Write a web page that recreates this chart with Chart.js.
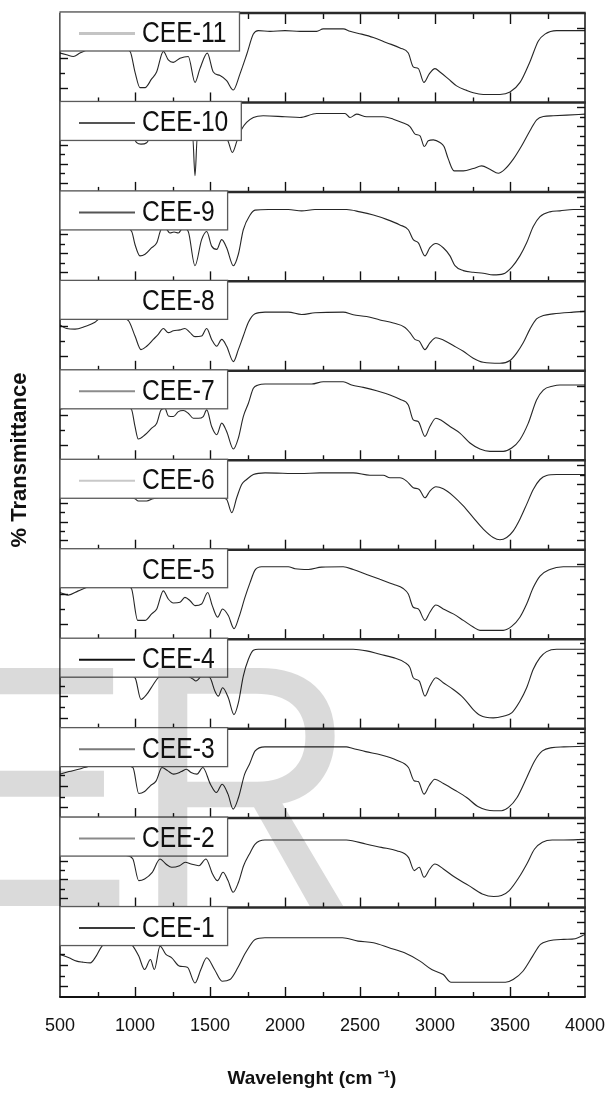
<!DOCTYPE html>
<html>
<head>
<meta charset="utf-8">
<script src="https://cdn.jsdelivr.net/npm/chart.js@4/dist/chart.umd.min.js"></script>
<style>
  html, body { margin: 0; padding: 0; background: #fff; }
  canvas { display: block; }
</style>
</head>
<body>
<canvas id="ftir" width="611" height="1095"></canvas>
<script>
// ================= DATA =================
// one panel per sample, bottom (CEE-1) to top (CEE-11)
const SAMPLES = ['CEE-1', 'CEE-2', 'CEE-3', 'CEE-4', 'CEE-5', 'CEE-6', 'CEE-7', 'CEE-8', 'CEE-9', 'CEE-10', 'CEE-11'];
const X_TICKS = [500, 1000, 1500, 2000, 2500, 3000, 3500, 4000];

// wavenumber (cm-1) and relative transmittance inside its panel (0 = panel bottom, 100 = panel top)
const W1 = [500,560,611,650,702, 741,780,850,950,986, 1025,1064,1103,1129,1167, 1206,1245,1297,1349,1400, 1439,1478,1530,1581,1633, 1685,1737,1801,1866,2383, 2487,2590,2694,2797,2900, 2978,3055,3107,3470,3521, 3586,3651,3703,3754,3858, 3935,4000];
const T1 = [47.6,43.8,40.1,39,38.2, 45.7,56.9,62,62,56.9, 45.7,30.7,41.9,30.7,56.9, 47.6,43.8,34.5,33.3,15.7, 30.7,43.8,30.7,17.6,19.5, 32.6,49.4,64.4,66.3,66.3, 62.5,60.7,55.1,49.4,40.1, 30.7,25.1,16.5,16.5,19.5, 28.8,45.7,58.8,62.5,64.4, 65.2,70];

const W2 = [500,700,950,986,1025, 1064,1115,1167,1206,1245, 1297,1335,1374,1426,1473, 1517,1550,1587,1620,1654, 1690,1724,1763,1801,1866, 2409,2448,2538,2642,2745, 2823,2862,2895,2927,2965, 2999,3056,3133,3226,3315, 3392,3443,3495,3560,3612, 3664,3716,3781,3858,4000];
const T2 = [60,62,58,54.3,30.1, 32,39.4,54.3,48.7,45, 46.8,50.6,48.7,46.8,54.3, 37.5,30.1,39.4,30.1,17.1, 28.3,46.8,59.9,71,75.5, 75.5,74.7,71,67.3,63.6, 56.1,41.3,45,33.8,43.1, 48.7,43.1,33.8,24.5,15.2, 12.3,13.4,19,33.8,48.7, 65.4,72.9,75.5,75.5,76.2];

const W3 = [500,560,624,663,750, 900,986,1025,1064,1102, 1141,1180,1219,1258,1310, 1343,1374,1413,1452,1503, 1543,1581,1620,1654,1690, 1731,1763,1801,1866,2409, 2448,2538,2642,2745,2823, 2862,2888,2927,2961,2999, 3056,3133,3211,3289,3392, 3443,3490,3547,3612,3664, 3716,3781,3858,4000];
const T3 = [49.1,52,54.6,56.5,60, 60,56.5,27.5,29.7,36.1, 41.6,56.5,52.8,49.1,52, 54.6,50.9,49.1,56.5,37.9, 28.6,37.9,26.8,10,23, 49.1,60.2,75.1,79.6,79.6, 78.1,74.3,70.6,64.7,56.5, 41.6,40.9,26.8,36.1,43.5, 38.7,31.2,23,12.6,8.2, 8.2,11.9,23,45.4,63.9, 75.1,78.8,79.6,80.3];

const W4 = [500,700,900,1000,1040, 1078,1122,1155,1200,1300, 1389,1405,1422,1450,1500, 1533,1555,1584,1622,1660, 1689,1722,1756,1789,1822, 2250,2455,2544,2633,2722, 2800,2833,2855,2895,2933, 2966,3006,3055,3122,3189, 3255,3300,3388,3455,3511, 3566,3611,3655,3700,3744, 3811,4000];
const T4 = [62,63,62,56.9,32.6, 38.2,49.4,56.9,62,62, 55.1,53.2,55.1,60,56.9, 41.9,36.3,45.7,34.5,15.7, 28.8,58.8,77.5,87.6,88.8, 88.8,88.8,86.9,83.1,79.4, 73.8,68.2,56.9,53.2,36.3, 47.6,56.9,51.3,43.8,34.5, 21.3,15,12,13.9,17.6, 30.7,45.7,66.3,79.4,86.1, 88.8,88.8];

const W5 = [500,555,622,680,800, 950,978,1018,1067,1111, 1145,1189,1222,1256,1300, 1333,1367,1400,1444,1485, 1515,1551,1584,1622,1660, 1693,1733,1767,1800,1844, 2022,2067,2156,2244,2388, 2455,2544,2633,2722,2788, 2822,2855,2889,2933,2966, 3006,3055,3122,3189,3255, 3300,3455,3511,3566,3611, 3655,3700,3766,3855,4000];
const T5 = [52.2,49.3,54,58,62, 60,55.9,21,21,28.3, 33.8,54,44.9,40.4,41.2, 46.7,43,37.5,39.3,52.2, 37.5,24.6,33.8,26.5,11.8, 24.6,46.7,63.2,77.2,80.9, 80.9,78.7,77.9,80.5,80.9, 77.9,72.4,66.9,61.4,56.6, 50.4,35.7,33.8,21,30.1, 38.2,33.8,28.3,21,13.6, 9.9,9.9,14.3,24.6,39.3, 57.7,70.6,77.9,80.9,80.9];

const W6 = [500,700,900,1000,1022, 1078,1120,1300,1500,1580, 1611,1645,1678,1711,1744, 1789,1867,2100,2233,2455, 2566,2655,2700,2766,2811, 2855,2895,2933,2966,3006, 3055,3122,3189,3255,3322, 3388,3433,3478,3522,3566, 3611,3655,3700,3744,3811, 4000];
const T6 = [60,62,60,57,54.4, 54.4,57,60,60,58, 56.3,41.5,58.1,73,78.5, 84.1,85.9,85.2,85.9,85.9, 83.3,83.3,80.4,80.4,76.7, 69.3,67.4,58.1,65.6,70.4, 68.1,60,48.9,35.9,23, 13.7,11.1,13.7,21.1,34.1, 50.7,67.4,78.5,83,84.1, 84.1];

const W7 = [500,600,800,950,978, 1000,1022,1067,1111,1145, 1174,1200,1222,1256,1289, 1322,1355,1389,1422,1455, 1478,1511,1545,1578,1611, 1656,1689,1722,1756,1789, 1822,1867,2178,2255,2388, 2444,2522,2611,2700,2766, 2822,2855,2888,2933,2966, 3006,3044,3100,3166,3233, 3300,3366,3455,3511,3566, 3622,3677,3722,3788,3833, 4000];
const T7 = [57,60,62,60,56.3, 37.8,23.7,28.5,35.9,41.5, 56.3,58,49.6,48.9,54.4, 55.6,52.6,47,47,48.9, 56.3,37.8,28.5,41.5,32.2, 12.6,24.8,48.9,63.7,80.4, 84.1,85.2,85.2,87.8,87.8, 84.1,81.5,77.8,73,68.1, 61.9,45.2,43.3,26.7,37.8, 47,44.4,37.8,30.4,19.3, 12.6,10,10,13.7,23, 41.5,67.4,78.5,83,84.1, 84.1];

const W8 = [500,544,600,667,733, 760,850,956,1000,1040, 1078,1122,1155,1189,1222, 1256,1300,1333,1367,1400, 1444,1478,1511,1545,1578, 1611,1656,1689,1722,1756, 1800,1867,2022,2111,2200, 2388,2455,2544,2633,2722, 2800,2833,2866,2895,2933, 2966,3006,3055,3122,3189, 3255,3322,3433,3500,3544, 3588,3633,3677,3722,3788, 3922,4000];
const T8 = [51.1,47.3,46.6,49.6,54.2, 58,62,56.1,38.9,23.7, 27.5,35.1,40.8,47.3,42.7, 44.7,45.8,47.3,42.7,38.2, 38.9,47.3,35.1,27.5,35.1, 27.5,10.3,23.7,38.9,54.2, 63.7,65.6,65.6,63,64.9, 65.6,62.6,60.7,56.9,53.4, 48.5,42.7,35.1,33.2,23.7, 31.3,37,34.4,28.2,21.8, 14.1,9.5,8.4,11.5,19.8, 31.3,46.6,58,61.8,63.7, 65.6,66.4];

const W9 = [500,700,900,978,1000, 1033,1067,1111,1145,1173, 1200,1233,1260,1289,1320, 1355,1400,1444,1478,1511, 1545,1578,1611,1656,1689, 1722,1767,1800,1889,2022, 2111,2200,2411,2500,2589, 2677,2766,2822,2855,2889, 2933,2966,3006,3055,3100, 3133,3189,3255,3322,3388, 3455,3511,3566,3611,3655, 3700,3766,3833,3922,4000];
const T9 = [62,64,63,55.8,41.2, 28.5,30.3,37.6,43.1,57.7, 60,54,55.1,54,60, 55.8,17.5,46.7,55.8,39.4, 35.8,46.7,37.6,17.5,30.3, 57.7,74.1,79.6,80.3,80.3, 78.8,80.3,80.3,77.7,74.1, 69.3,63.1,57.7,46.7,43.1, 28.5,37.6,42.3,37.6,28.5, 17.5,12,10.2,9.1,7.3, 8.4,15.7,28.5,43.1,61.3, 72.3,77.7,78.8,80.3,80.3];

const W10 = [500,700,900,990,1011, 1040,1078,1100,1200,1300, 1385,1400,1415,1500,1600, 1620,1649,1680,1711,1744, 1789,1855,2000,2100,2211, 2400,2433,2477,2544,2655, 2722,2789,2833,2867,2900, 2929,2955,2989,3033,3060, 3089,3127,3189,3255,3311, 3366,3422,3466,3522,3578, 3633,3678,3722,3789,3878, 4000];
const T10 = [64,66,63,60,55, 53.4,55,60,64,63, 60,18,60,63,62, 57,44,57,70.1,77.6, 83.2,85.1,84,83.2,87.7, 87.7,83.2,86.9,84,84, 81.3,76.9,73.1,64.6,62.7, 50.7,57.1,58.2,55.2,50.7, 36.6,23.5,23.5,26.1,29.1, 25.4,20.9,25.4,36.6,51.5, 68.3,80.6,84.3,85.1,85.8, 86.9];

const W11 = [500,544,589,633,667, 750,850,967,1000,1033, 1067,1111,1144,1189,1222, 1255,1300,1355,1400,1433, 1482,1522,1567,1611,1655, 1700,1744,1789,1822,1900, 2000,2100,2211,2255,2388, 2433,2511,2589,2677,2767, 2822,2855,2889,2926,2962, 3000,3033,3089,3144,3211, 3255,3322,3433,3500,3567, 3633,3689,3733,3811,3900, 4000];
const T11 = [55.2,53.3,51.4,55.2,57.9, 62,64,57.1,34,16.6, 16.6,26.3,34,57.1,47.5, 44.8,49.4,51.4,22.4,37.8, 55.2,34,30.1,24.3,13.9, 32,53.3,76.4,80.3,79.5, 80.3,79.5,79.5,82.2,82.2, 79.5,76.4,72.6,66.8,61, 55.2,39.8,37.8,22.4,32, 37.8,34,26.3,18.5,13.5, 10.8,8.9,8.9,11.6,22.4, 45.6,68.7,76.4,80.3,80.3, 80.3];

const WAVES = [W1, W2, W3, W4, W5, W6, W7, W8, W9, W10, W11];
const TRANS = [T1, T2, T3, T4, T5, T6, T7, T8, T9, T10, T11];

// ================= STYLE =================
const PANEL = 100;  // value span of one panel on the shared y scale
const LEGEND_LINE = ['#3a3a3a', '#8a8a8a', '#7a7a7a', '#111111', '#ffffff', '#c8c8c8', '#8c8c8c', '#ffffff', '#555555', '#555555', '#c4c4c4'];
const Y_TICK_STEP = [12, 10.5, 12, 12, 16.7, 10.5, 16.7, 16.7, 10.5, 10.5, 16.7];
const FONT = "'Liberation Sans', Arial, sans-serif";

const datasets = SAMPLES.map((name, k) => ({
    label: name,
    data: WAVES[k].map((w, i) => ({ x: w, y: PANEL * k + TRANS[k][i] })),
    borderColor: '#262626',
    borderWidth: 1.1,
    pointRadius: 0,
    cubicInterpolationMode: 'monotone',
    fill: false
}));

function seg(ctx, x1, y1, x2, y2) {
    ctx.beginPath();
    ctx.moveTo(x1, y1);
    ctx.lineTo(x2, y2);
    ctx.stroke();
}

const panelsPlugin = {
    id: 'panels',
    beforeDraw(chart) {
        const ctx = chart.ctx;
        ctx.save();
        ctx.fillStyle = '#fff';
        ctx.fillRect(0, 0, chart.width, chart.height);
        ctx.restore();
    },
    afterDatasetsDraw(chart) {
        const { ctx, chartArea: a, scales: { x, y } } = chart;
        const n = SAMPLES.length;
        ctx.save();

        // ticks
        ctx.strokeStyle = '#111';
        ctx.lineWidth = 1.4;
        for (let k = 0; k < n; k++) {
            const top = y.getPixelForValue(PANEL * (k + 1));
            const bot = y.getPixelForValue(PANEL * k);
            for (let w = 750; w < 4000; w += 250) {
                const px = Math.round(x.getPixelForValue(w)) + 0.5;
                const len = w % 500 === 0 ? 10 : 5;
                seg(ctx, px, bot, px, bot - len);
                if (k === n - 1) seg(ctx, px, top, px, top + len + 1);
            }
            const step = Y_TICK_STEP[k];
            let i = 0;
            for (let v = step; v < PANEL - 2; v += step, i++) {
                const py = Math.round(y.getPixelForValue(PANEL * k + v)) + 0.5;
                const len = i % 2 ? 5 : 8;
                seg(ctx, a.left, py, a.left + len, py);
                seg(ctx, a.right, py, a.right - len, py);
            }
        }

        // frame: side axes, panel separators, bottom axis
        ctx.lineWidth = 1.5;
        seg(ctx, a.left, a.top, a.left, a.bottom);
        seg(ctx, a.right, a.top, a.right, a.bottom);
        ctx.strokeStyle = '#2a2a2a';
        ctx.lineWidth = 2.5;
        for (let k = 0; k < n; k++) {
            const top = y.getPixelForValue(PANEL * (k + 1));
            seg(ctx, a.left, top, a.right + 0.75, top);
        }
        ctx.strokeStyle = '#111';
        ctx.lineWidth = 2;
        seg(ctx, a.left - 0.75, a.bottom, a.right + 0.75, a.bottom);

        // legend box of every panel, drawn over its curve (narrow lettering)
        ctx.font = '29px ' + FONT;
        ctx.textBaseline = 'middle';
        const squeeze = 0.85;
        for (let k = 0; k < n; k++) {
            const top = y.getPixelForValue(PANEL * (k + 1));
            const tx = a.left + 82;
            const tw = ctx.measureText(SAMPLES[k]).width * squeeze;
            const bw = tx + tw + 13 - a.left;
            ctx.fillStyle = '#fff';
            ctx.fillRect(a.left, top - 1, bw, 39);
            ctx.strokeStyle = '#5a5a5a';
            ctx.lineWidth = 1.3;
            ctx.strokeRect(a.left, top - 1, bw, 39);
            ctx.strokeStyle = LEGEND_LINE[k];
            ctx.lineWidth = k === n - 1 ? 3 : 2;
            seg(ctx, a.left + 19, top + 20.5, a.left + 75, top + 20.5);
            ctx.save();
            ctx.translate(tx, top + 21);
            ctx.scale(squeeze, 1);
            ctx.fillStyle = '#111';
            ctx.fillText(SAMPLES[k], 0, 0);
            ctx.restore();
        }
        ctx.restore();
    },
    afterDraw(chart) {
        const ctx = chart.ctx;
        ctx.save();
        // y title
        ctx.translate(20, 460);
        ctx.rotate(-Math.PI / 2);
        ctx.font = 'bold 22px ' + FONT;
        ctx.fillStyle = '#111';
        ctx.textAlign = 'center';
        ctx.textBaseline = 'middle';
        ctx.fillText('% Transmittance', 0, 0);
        ctx.restore();

        // faint watermark lying over the figure
        ctx.save();
        ctx.globalCompositeOperation = 'multiply';
        ctx.fillStyle = '#dadada';
        ctx.font = '346px ' + FONT;
        ctx.translate(-75, 906);
        ctx.scale(0.9, 1);
        ctx.fillText('ER', 0, 0);
        ctx.restore();
    }
};

new Chart(document.getElementById('ftir'), {
    type: 'line',
    data: { datasets },
    options: {
        responsive: false,
        animation: false,
        devicePixelRatio: 1,
        layout: { padding: { left: 60, right: 26, top: 13, bottom: 0 } },
        plugins: { legend: { display: false }, tooltip: { enabled: false } },
        scales: {
            x: {
                type: 'linear',
                min: X_TICKS[0],
                max: X_TICKS[X_TICKS.length - 1],
                afterBuildTicks: scale => { scale.ticks = X_TICKS.map(v => ({ value: v })); },
                afterFit: scale => {
                    scale.height = 98;
                    scale.paddingLeft = 0;
                    scale.paddingRight = 0;
                },
                grid: { display: false, drawTicks: false },
                border: { display: false },
                ticks: {
                    padding: 18,
                    maxRotation: 0,
                    autoSkip: false,
                    color: '#111',
                    font: { family: FONT, size: 18 },
                    callback: v => String(v)
                },
                title: {
                    display: true,
                    // trailing spaces nudge the centred title a little to the left, as in the figure
                    text: 'Wavelenght (cm \u207B\u00B9)\u00A0\u00A0\u00A0\u00A0',
                    color: '#111',
                    padding: { top: 0, bottom: 5 },
                    font: { family: FONT, size: 19, weight: 'bold' }
                }
            },
            y: {
                display: false,
                min: 0,
                max: PANEL * SAMPLES.length
            }
        }
    },
    plugins: [panelsPlugin]
});
</script>
</body>
</html>
